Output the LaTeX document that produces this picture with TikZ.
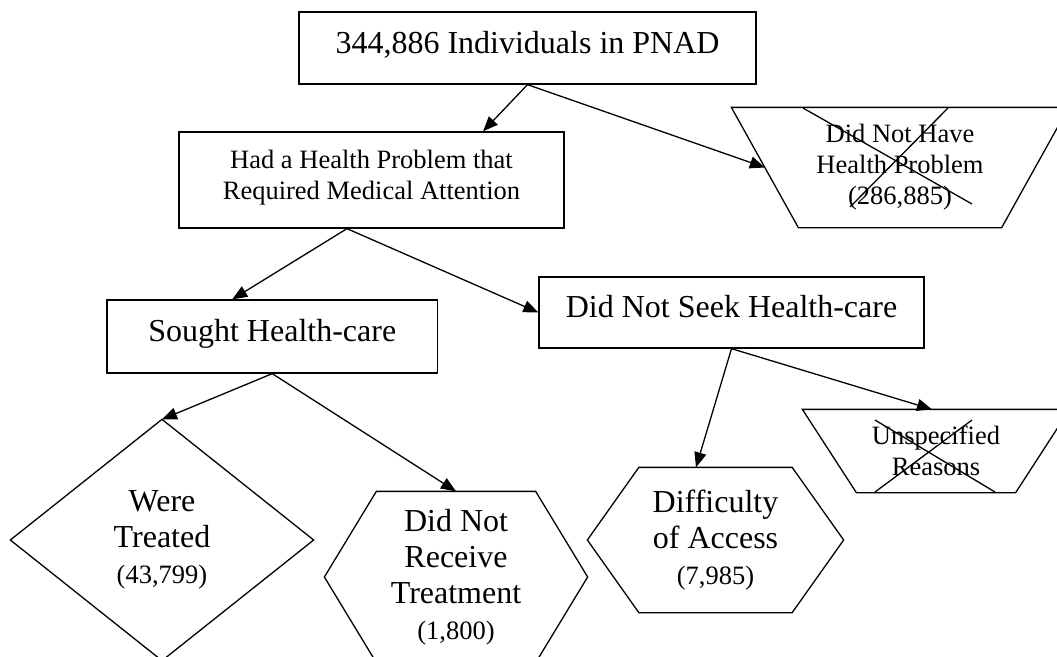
\documentclass[tikz,border=0pt]{standalone}
\usepackage{fontspec}
\setmainfont{Liberation Serif}
\usetikzlibrary{arrows.meta}
\tikzset{>={Triangle[length=15pt,width=12pt]}}
\tikzset{
  wordbox/.style={draw, rectangle, inner sep=0pt, align=center, text height=22pt, text depth=12pt},
  plainbox/.style={inner sep=0pt, align=center},
}
\newcommand{\bigtxt}{\fontsize{32}{36}\selectfont}
\newcommand{\smalltxt}{\fontsize{26.5}{31}\selectfont}

\begin{document}
\begin{tikzpicture}[x=1pt, y=-1pt, line width=1.3pt]
\useasboundingbox (0,0) rectangle (1057,656);
\clip (0,0) rectangle (1057,656);
\fill[white] (0,0) rectangle (1057,656);
\node[wordbox, font=\bigtxt, minimum width=457pt, minimum height=72pt] (pnad) at (527.5,48) {344,886 Individuals in PNAD};
\node[wordbox, font=\smalltxt, minimum width=385pt, minimum height=96pt, text height=49pt, text depth=10.5pt] (had) at (371.5,180) {Had a Health Problem that\\Required Medical Attention};
\node[wordbox, font=\bigtxt, minimum width=330.5pt, minimum height=73pt] (sought) at (272.25,336.5) {Sought Health-care};
\node[wordbox, font=\bigtxt, minimum width=385pt, minimum height=71pt] (noseek) at (731.5,312.5) {Did Not Seek Health-care};
\node[plainbox, font=\smalltxt, minimum width=336pt, minimum height=119pt] (nohp) at (900,167.5) {Did Not Have\\Health Problem\\(286,885)};
\node[plainbox, font=\smalltxt, minimum width=266pt, minimum height=82pt] (unspec) at (936,451) {Unspecified\\Reasons};
\node[plainbox, font=\bigtxt, minimum width=302pt, minimum height=240pt] (treated) at (162,540) {Were\\Treated\\{\smalltxt (43,799)}};
\node[plainbox, font=\bigtxt, minimum width=262pt, minimum height=170pt] (notreat) at (456,577) {Did Not\\Receive\\Treatment\\{\smalltxt (1,800)}};
\node[plainbox, font=\bigtxt, minimum width=255pt, minimum height=144pt] (access) at (715.5,540) {Difficulty\\of Access\\{\smalltxt (7,985)}};
\draw (nohp.north west) -- (nohp.north east) -- ([xshift=-67pt]nohp.south east) -- ([xshift=67pt]nohp.south west) -- cycle;
\draw (803,108) -- (972,204);
\draw (948,108) -- (850,207);
\draw (unspec.north west) -- (unspec.north east) -- ([xshift=-54pt]unspec.south east) -- ([xshift=54pt]unspec.south west) -- cycle;
\draw (875,420) -- (995,492);
\draw (972,420) -- (875,492);
\draw (treated.north) -- (treated.east) -- (treated.south) -- (treated.west) -- cycle;
\draw (notreat.west) -- ([xshift=52pt]notreat.north west) -- ([xshift=-52pt]notreat.north east) -- (notreat.east) -- ([xshift=-52pt]notreat.south east) -- ([xshift=52pt]notreat.south west) -- cycle;
\draw (access.west) -- ([xshift=51.5pt]access.north west) -- ([xshift=-51.5pt]access.north east) -- (access.east) -- ([xshift=-51.5pt]access.south east) -- ([xshift=51.5pt]access.south west) -- cycle;
\draw[->] (pnad.south) -- ([xshift=111.5pt]had.north);
\draw[->] (pnad.south) -- ([xshift=33.5pt]nohp.west);
\draw[->] ([xshift=-24.5pt]had.south) -- ([xshift=-40pt]sought.north);
\draw[->] ([xshift=-24.5pt]had.south) -- (noseek.west);
\draw[->] (sought.south) -- (treated.north);
\draw[->] (sought.south) -- (notreat.north);
\draw[->] (noseek.south) -- ([xshift=-19.5pt]access.north);
\draw[->] (noseek.south) -- ([xshift=-4pt]unspec.north);
\end{tikzpicture}
\end{document}
